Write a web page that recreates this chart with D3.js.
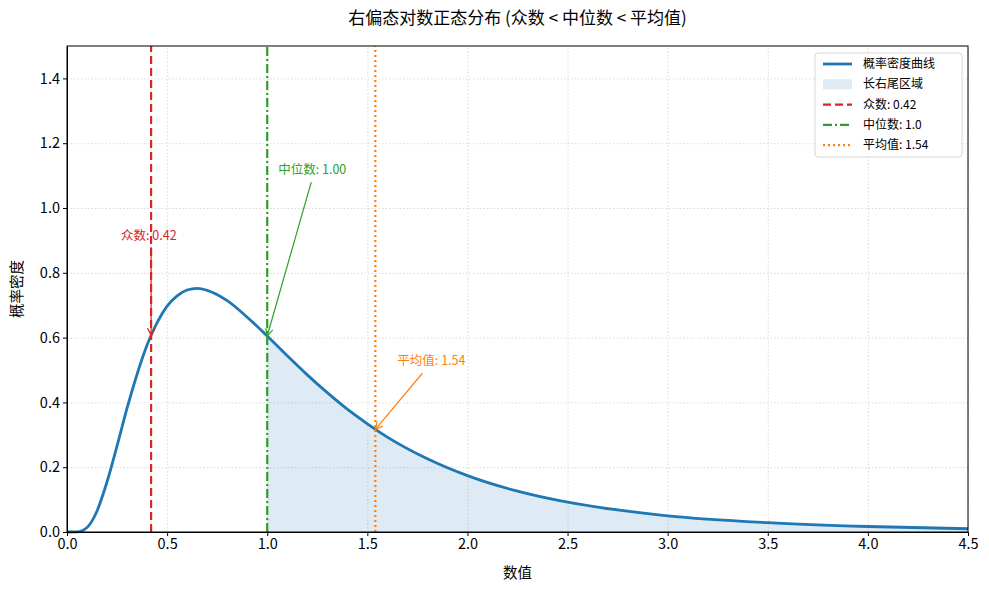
<!DOCTYPE html>
<html>
<head>
<meta charset="utf-8">
<script src="https://cdn.jsdelivr.net/npm/d3@7"></script>
<style>
  body { margin: 0; background: #fff; }
  svg { font-family: "Noto Sans CJK SC", "Noto Sans", sans-serif; }
  .grid line { stroke: #d0d0d0; stroke-dasharray: 1.5,2; stroke-width: 0.8; }
  .axis path, .axis line { stroke: #000; }
</style>
</head>
<body>
<svg id="chart" width="989" height="590"></svg>
<script>
  // density curve, values
  var xValues = [0, 0.05, 0.1, 0.15, 0.2, 0.25, 0.3, 0.35, 0.4, 0.45, 0.5, 0.55, 0.6, 0.65, 0.7, 0.8, 0.9,
    1.0, 1.1, 1.2, 1.3, 1.4, 1.5, 1.6, 1.8, 2.0, 2.25, 2.5, 2.75, 3.0, 3.5, 4.0, 4.5];
  var densityValues = [0, 0.0004, 0.014, 0.065, 0.155, 0.266, 0.382, 0.487, 0.577, 0.646, 0.697, 0.729, 0.747, 0.752, 0.746, 0.714, 0.663,
    0.605, 0.544, 0.485, 0.430, 0.379, 0.334, 0.293, 0.226, 0.174, 0.126, 0.092, 0.068, 0.050, 0.029, 0.017, 0.010];

  var statNames = ['众数', '中位数', '平均值'];
  var statValues = [0.42, 1.0, 1.54];
  var statLegend = ['众数: 0.42', '中位数: 1.0', '平均值: 1.54'];
  var statNotes = ['众数: 0.42', '中位数: 1.00', '平均值: 1.54'];
  var statColors = ['#d62728', '#2ca02c', '#ff7f0e'];
  var statDashes = ['8,4', '9,3,2,3', '2,3'];

  var xTicks = [0, 0.5, 1, 1.5, 2, 2.5, 3, 3.5, 4, 4.5];
  var yTicks = [0, 0.2, 0.4, 0.6, 0.8, 1.0, 1.2, 1.4];

  var margin = {left: 67, right: 21, top: 46, bottom: 58};
  var width = 989, height = 590;
  var svg = d3.select('#chart');

  var x = d3.scaleLinear().domain([0, 4.5]).range([margin.left, width - margin.right]);
  var y = d3.scaleLinear().domain([0, 1.5]).range([height - margin.bottom, margin.top]);

  var points = xValues.map(function (v, i) { return {x: v, y: densityValues[i]}; });

  // grid
  svg.append('g').attr('class', 'grid')
    .attr('transform', 'translate(0,' + y(0) + ')')
    .call(d3.axisBottom(x).tickValues(xTicks).tickSize(-(y(0) - y(1.5))).tickFormat(''))
    .call(function (g) { g.select('.domain').remove(); });
  svg.append('g').attr('class', 'grid')
    .attr('transform', 'translate(' + x(0) + ',0)')
    .call(d3.axisLeft(y).tickValues(yTicks).tickSize(-(x(4.5) - x(0))).tickFormat(''))
    .call(function (g) { g.select('.domain').remove(); });

  // long right tail fill
  var tail = points.filter(function (d) { return d.x >= 1.0; });
  var area = d3.area()
    .x(function (d) { return x(d.x); })
    .y0(y(0))
    .y1(function (d) { return y(d.y); })
    .curve(d3.curveMonotoneX);
  svg.append('path').datum(tail)
    .attr('d', area)
    .attr('fill', '#1f77b4').attr('fill-opacity', 0.15);

  // curve
  var line = d3.line()
    .x(function (d) { return x(d.x); })
    .y(function (d) { return y(d.y); })
    .curve(d3.curveMonotoneX);
  svg.append('path').datum(points)
    .attr('d', line)
    .attr('fill', 'none')
    .attr('stroke', '#1f77b4')
    .attr('stroke-width', 2.8);

  // vertical stat lines
  statValues.forEach(function (v, i) {
    svg.append('line')
      .attr('x1', x(v)).attr('x2', x(v))
      .attr('y1', y(0)).attr('y2', y(1.5))
      .attr('stroke', statColors[i])
      .attr('stroke-width', 2.2)
      .attr('stroke-dasharray', statDashes[i]);
  });

  // axes
  var fmt = d3.format('.1f');
  function styleTicks(g) {
    g.attr('font-family', null);
    g.selectAll('text').style('font-size', '14.5px').attr('fill', '#000');
  }
  svg.append('g').attr('class', 'axis')
    .attr('transform', 'translate(0,' + y(0) + ')')
    .call(d3.axisBottom(x).tickValues(xTicks).tickFormat(fmt).tickSize(4).tickSizeOuter(0).tickPadding(3))
    .call(styleTicks);
  svg.append('g').attr('class', 'axis')
    .attr('transform', 'translate(' + x(0) + ',0)')
    .call(d3.axisLeft(y).tickValues(yTicks).tickFormat(fmt).tickSize(4).tickSizeOuter(0).tickPadding(3))
    .call(styleTicks);
  // frame
  svg.append('rect')
    .attr('x', x(0)).attr('y', y(1.5))
    .attr('width', x(4.5) - x(0)).attr('height', y(0) - y(1.5))
    .attr('fill', 'none').attr('stroke', '#000').attr('stroke-width', 1);

  // annotations
  var defs = svg.append('defs');
  statColors.forEach(function (c, i) {
    defs.append('marker')
      .attr('id', 'arrow' + i)
      .attr('viewBox', '0 0 10 10')
      .attr('refX', 9).attr('refY', 5)
      .attr('markerWidth', 9).attr('markerHeight', 9)
      .attr('markerUnits', 'userSpaceOnUse')
      .attr('orient', 'auto')
      .append('path')
      .attr('d', 'M1,1 L9,5 L1,9')
      .attr('fill', 'none').attr('stroke', c).attr('stroke-width', 1.3);
  });

  var noteText = [[0.27, 0.9], [1.055, 1.105], [1.65, 0.515]];
  var noteStart = [[0.42, 0.88], [1.22, 1.08], [1.775, 0.49]];
  var noteTarget = [0.607, 0.605, 0.317];
  statValues.forEach(function (v, i) {
    svg.append('line')
      .attr('x1', x(noteStart[i][0])).attr('y1', y(noteStart[i][1]))
      .attr('x2', x(v)).attr('y2', y(noteTarget[i]))
      .attr('stroke', statColors[i]).attr('stroke-width', 1.2)
      .attr('marker-end', 'url(#arrow' + i + ')');
    svg.append('text')
      .attr('x', x(noteText[i][0])).attr('y', y(noteText[i][1]))
      .attr('fill', statColors[i])
      .attr('font-size', 12.5)
      .text(statNotes[i]);
  });

  // title and labels
  svg.append('text')
    .attr('x', (x(0) + x(4.5)) / 2).attr('y', 24)
    .attr('text-anchor', 'middle').attr('font-size', 17)
    .text('右偏态对数正态分布 (众数 < 中位数 < 平均值)');
  svg.append('text')
    .attr('x', (x(0) + x(4.5)) / 2).attr('y', 578)
    .attr('text-anchor', 'middle').attr('font-size', 14.5)
    .text('数值');
  svg.append('text')
    .attr('transform', 'translate(22,' + ((y(0) + y(1.5)) / 2) + ') rotate(-90)')
    .attr('text-anchor', 'middle').attr('font-size', 14.5)
    .text('概率密度');

  // legend
  var lg = svg.append('g').attr('transform', 'translate(815,53)');
  lg.append('rect').attr('width', 147).attr('height', 104).attr('rx', 3)
    .attr('fill', '#fff').attr('fill-opacity', 0.85)
    .attr('stroke', '#d5d5d5');
  var legendItems = [{label: '概率密度曲线', type: 'line', color: '#1f77b4', dash: null, w: 2.8}]
    .concat([{label: '长右尾区域', type: 'area'}])
    .concat(statLegend.map(function (l, i) {
      return {label: l, type: 'line', color: statColors[i], dash: statDashes[i], w: 2.2};
    }));
  legendItems.forEach(function (it, i) {
    var cy = 11 + i * 20.3;
    if (it.type === 'area') {
      lg.append('rect').attr('x', 8).attr('y', cy - 5).attr('width', 29).attr('height', 10)
        .attr('fill', '#1f77b4').attr('fill-opacity', 0.15);
    } else {
      lg.append('line').attr('x1', 8).attr('x2', 37).attr('y1', cy).attr('y2', cy)
        .attr('stroke', it.color).attr('stroke-width', it.w)
        .attr('stroke-dasharray', it.dash);
    }
    lg.append('text').attr('x', 48).attr('y', cy + 4)
      .attr('font-size', 12).text(it.label);
  });
</script>
</body>
</html>
